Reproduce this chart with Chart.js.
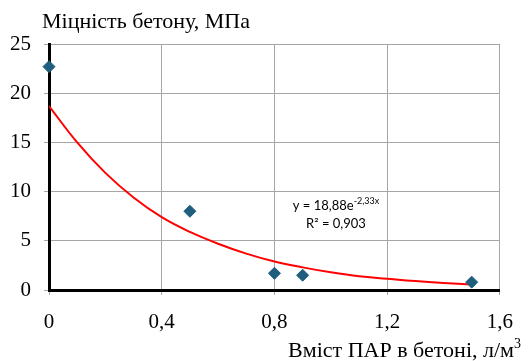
<!DOCTYPE html>
<html><head><meta charset="utf-8">
<script src="https://cdn.jsdelivr.net/npm/chart.js@4.4.0/dist/chart.umd.min.js"></script>
<style>html,body{margin:0;padding:0;background:#fff}#w{width:528px;height:361px}</style>
</head><body><div id="w"><canvas id="c"></canvas></div>
<script>
const pointX = [0, 0.5, 0.8, 0.9, 1.5];
const pointY = [22.7, 8.0, 1.7, 1.5, 0.8];
const trendX = [0, 0.1, 0.2, 0.3, 0.4, 0.5, 0.6, 0.7, 0.8, 0.9, 1.0, 1.1, 1.2, 1.3, 1.4, 1.5];
const trendY = [18.7, 15.0, 11.9, 9.4, 7.4, 5.9, 4.7, 3.7, 2.9, 2.3, 1.8, 1.4, 1.15, 0.91, 0.72, 0.57];
const xTicks = [0, 0.4, 0.8, 1.2, 1.6];
const yTicks = [0, 5, 10, 15, 20, 25];
const yTitle = 'Міцність бетону, МПа';
const xTitle = 'Вміст ПАР в бетоні, л/м';
const eqMain = 'y = 18,88e';
const eqExp = '-2,33x';
const r2 = 'R² = 0,903';

const serif = '"Liberation Serif", "Times New Roman", serif';
const sans = 'Lato, "Open Sans", sans-serif';

const textPlugin = {
  id: 'texts',
  afterDraw(chart) {
    const ctx = chart.ctx;
    ctx.save();
    ctx.fillStyle = '#000';
    ctx.textBaseline = 'alphabetic';
    ctx.font = '22px ' + serif;
    ctx.textAlign = 'left';
    ctx.fillText(yTitle, 42, 28);
    // x title with superscript
    ctx.font = '14px ' + serif;
    const supW = ctx.measureText('3').width;
    ctx.textAlign = 'left';
    ctx.fillText('3', 521 - supW, 348);
    ctx.font = '22px ' + serif;
    ctx.textAlign = 'right';
    ctx.fillText(xTitle, 521 - supW, 357);
    // equation
    ctx.font = '13px ' + sans;
    const w1 = ctx.measureText(eqMain).width;
    ctx.font = '9px ' + sans;
    const w2 = ctx.measureText(eqExp).width;
    const cx = 336;
    const sx = cx - (w1 + w2) / 2;
    ctx.textAlign = 'left';
    ctx.font = '13px ' + sans;
    ctx.fillText(eqMain, sx, 210);
    ctx.font = '9px ' + sans;
    ctx.fillText(eqExp, sx + w1, 204);
    ctx.font = '13px ' + sans;
    ctx.textAlign = 'center';
    ctx.fillText(r2, cx, 228);
    ctx.restore();
  }
};

const fmt = v => String(v).replace('.', ',');

new Chart(document.getElementById('c'), {
  type: 'scatter',
  data: {
    datasets: [
      {
        label: 'trend',
        data: trendX.map((x, i) => ({x, y: trendY[i]})),
        showLine: true,
        borderColor: '#FF0000',
        borderWidth: 2,
        pointRadius: 0,
        tension: 0.4,
        fill: false,
        order: 2
      },
      {
        label: 'data',
        data: pointX.map((x, i) => ({x, y: pointY[i]})),
        pointStyle: 'rectRot',
        pointRadius: 6,
        backgroundColor: '#1F5E7C',
        borderColor: '#1F5E7C',
        borderWidth: 1,
        clip: false,
        order: 1
      }
    ]
  },
  options: {
    responsive: true,
    maintainAspectRatio: false,
    animation: false,
    layout: { padding: { top: 44, right: 23, left: 0, bottom: 0 } },
    plugins: { legend: { display: false }, tooltip: { enabled: false }, title: { display: false } },
    scales: {
      x: {
        type: 'linear', min: 0, max: 1.6,
        afterBuildTicks(s) { s.ticks = xTicks.map(v => ({value: v})); },
        afterFit(s) { s.height = 71; },
        grid: { color: '#A6A6A6', lineWidth: 1, tickLength: 5, drawTicks: true },
        border: { color: '#000', width: 3 },
        ticks: { color: '#000', font: { family: serif, size: 21 }, padding: 15, callback: v => fmt(v), maxRotation: 0 }
      },
      y: {
        type: 'linear', min: 0, max: 25,
        afterBuildTicks(s) { s.ticks = yTicks.map(v => ({value: v})); },
        afterFit(s) { s.width = 49; },
        grid: { color: '#A6A6A6', lineWidth: 1, tickLength: 5 },
        border: { color: '#000', width: 3 },
        ticks: { color: '#000', font: { family: serif, size: 21 }, padding: 13, callback: v => fmt(v) }
      }
    }
  },
  plugins: [textPlugin]
});
</script></body></html>
